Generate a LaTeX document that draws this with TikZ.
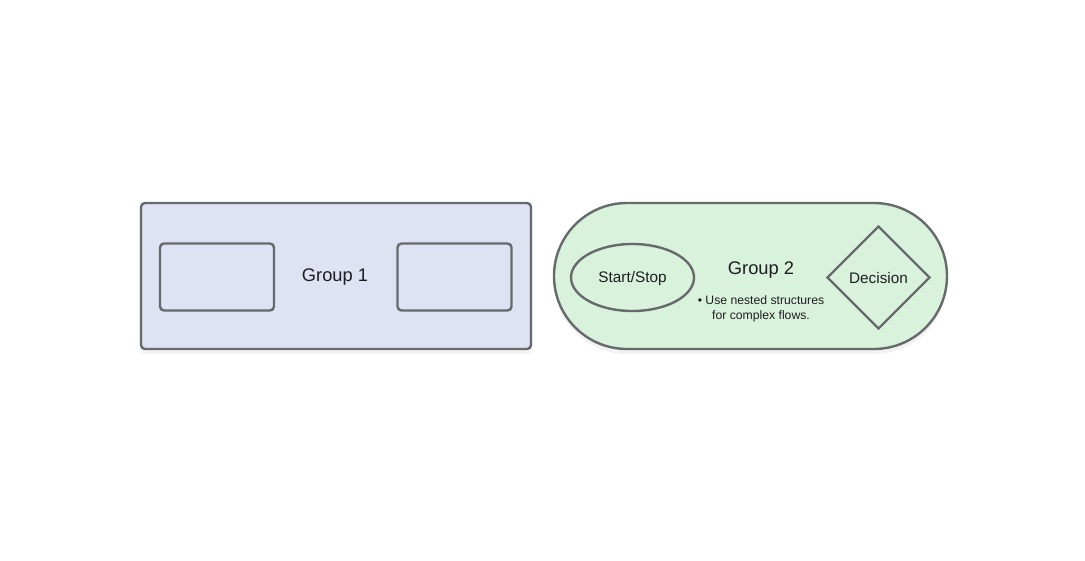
\documentclass[tikz,border=0pt]{standalone}
\usepackage{fontspec}
\setmainfont{Liberation Sans}
\usetikzlibrary{positioning, shapes.geometric, shadows}

\definecolor{lineGray}{HTML}{666A6C}
\definecolor{groupBlue}{HTML}{DFE2F2}
\definecolor{groupGreen}{HTML}{D9F2DC}
\definecolor{textDark}{HTML}{1E1E22}

\begin{document}
\begin{tikzpicture}[x=1pt, y=-1pt,
  outline/.style={draw=lineGray, line width=2.4pt},
  softshadow/.style={drop shadow={opacity=0.10, shadow xshift=0pt, shadow yshift=-5pt}},
  groupbox/.style={outline, rectangle, rounded corners=4pt, fill=groupBlue,
    minimum width=390pt, minimum height=146pt, softshadow},
  groupstadium/.style={outline, rectangle, rounded corners=73pt, fill=groupGreen,
    minimum width=393pt, minimum height=146pt, softshadow},
  innerbox/.style={outline, rectangle, rounded corners=4pt,
    minimum width=114pt, minimum height=67pt},
  startstop/.style={outline, ellipse, inner sep=0pt,
    minimum width=123pt, minimum height=67pt},
  decision/.style={outline, diamond, inner sep=0pt,
    minimum width=103pt, minimum height=103pt},
  title/.style={text=textDark, font=\fontsize{18.3}{22}\selectfont},
  label/.style={text=textDark, font=\fontsize{15.3}{18}\selectfont},
  note/.style={text=textDark, align=center, font=\fontsize{12.2}{15}\selectfont}
]

% page frame
\useasboundingbox (0,0) rectangle (1085,560);

% --- Group 1 ---
\node[groupbox] (group1) at (336,276) {};
\node[innerbox] (box1) at (217,277) {};
\node[innerbox] (box2) at (454.5,277) {};
\node[title] (g1title) at (335,277.5) {Group 1};

% --- Group 2 ---
\node[groupstadium] (group2) at (750.5,276) {};
\node[startstop] (start) at (632.5,277.5) {};
\node[label] at ([yshift=-1.5pt]start.center) {Start/Stop};
\node[decision] (decide) at (878.5,277.5) {};
\node[label] at ([yshift=-1pt]decide.center) {Decision};
\node[title] (g2title) at (761,270.5) {Group 2};
\node[note] (g2note) at (761,308.5) {\textbullet{} Use nested structures\\for complex flows.};

\end{tikzpicture}
\end{document}
